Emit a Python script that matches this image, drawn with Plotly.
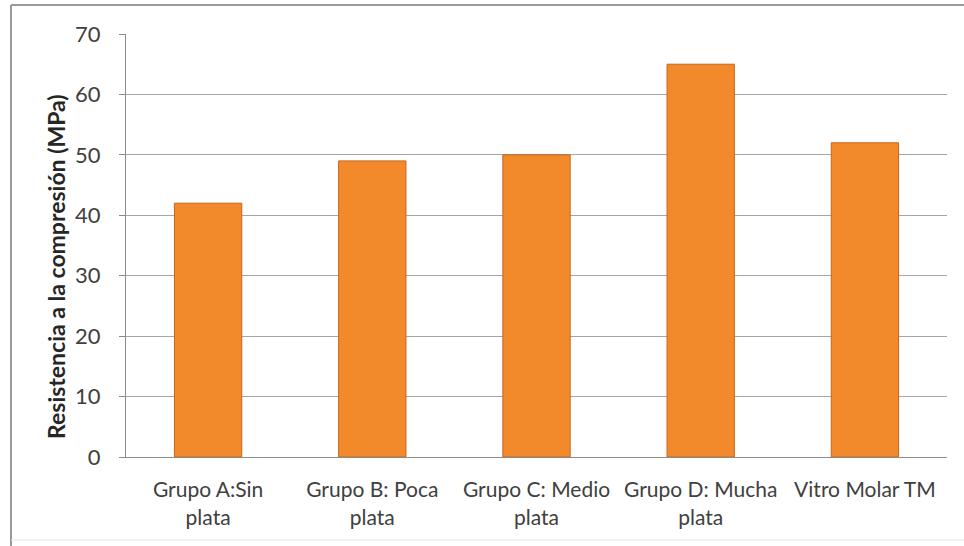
import plotly.graph_objects as go

categories = ["Grupo A:Sin<br>plata", "Grupo B: Poca<br>plata", "Grupo C: Medio<br>plata",
              "Grupo D: Mucha<br>plata", "Vitro Molar TM"]
values = [42, 49, 50, 65, 52]
y_ticks = [0, 10, 20, 30, 40, 50, 60, 70]
y_title = "Resistencia a la compresión (MPa)"

FONT = "Lato"
TXT = "#404040"

fig = go.Figure()
fig.add_trace(go.Bar(
    x=categories, y=values,
    marker=dict(color="#F28A2C", line=dict(color="#C6651C", width=1)),
    width=0.41,
))

L, R, T, B = 126, 17, 34, 89
W, H = 964, 546
pw, ph = W - L - R, H - T - B

def px(x):
    return (x - L) / pw

def py(y):
    return (H - B - y) / ph

border = "#9A9A9A"
fig.update_layout(
    width=W, height=H,
    margin=dict(l=L, r=R, t=T, b=B),
    paper_bgcolor="white", plot_bgcolor="white",
    font=dict(family=FONT, size=21, color=TXT),
    showlegend=False,
    xaxis=dict(showgrid=False, showline=True, linecolor="#8C8C8C", linewidth=1,
               ticks="", ticklabelstandoff=14, tickfont=dict(size=21, color=TXT)),
    yaxis=dict(range=[0, 70], tickvals=y_ticks, showgrid=True, gridcolor="#A6A6A6",
               gridwidth=1, showline=True, linecolor="#8C8C8C", linewidth=1,
               ticks="outside", ticklen=6, tickcolor="#8C8C8C", ticklabelstandoff=14,
               zeroline=False, tickfont=dict(size=22, color=TXT)),
    annotations=[dict(text="<b>" + y_title + "</b>", textangle=-90, xref="paper", yref="paper",
                      x=px(56), y=py(267), showarrow=False, xanchor="center", yanchor="middle",
                      font=dict(size=23, color="#262626", family=FONT))],
    shapes=[
        dict(type="line", xref="paper", yref="paper", x0=px(11), x1=px(11), y0=py(546), y1=py(5),
             line=dict(color=border, width=2), layer="below"),
        dict(type="line", xref="paper", yref="paper", x0=px(11), x1=px(964), y0=py(5), y1=py(5),
             line=dict(color=border, width=2), layer="below"),
        dict(type="line", xref="paper", yref="paper", x0=px(11), x1=px(964), y0=py(540), y1=py(540),
             line=dict(color="#E6E6E6", width=1), layer="below"),
    ],
)

fig.write_html("out.html")
